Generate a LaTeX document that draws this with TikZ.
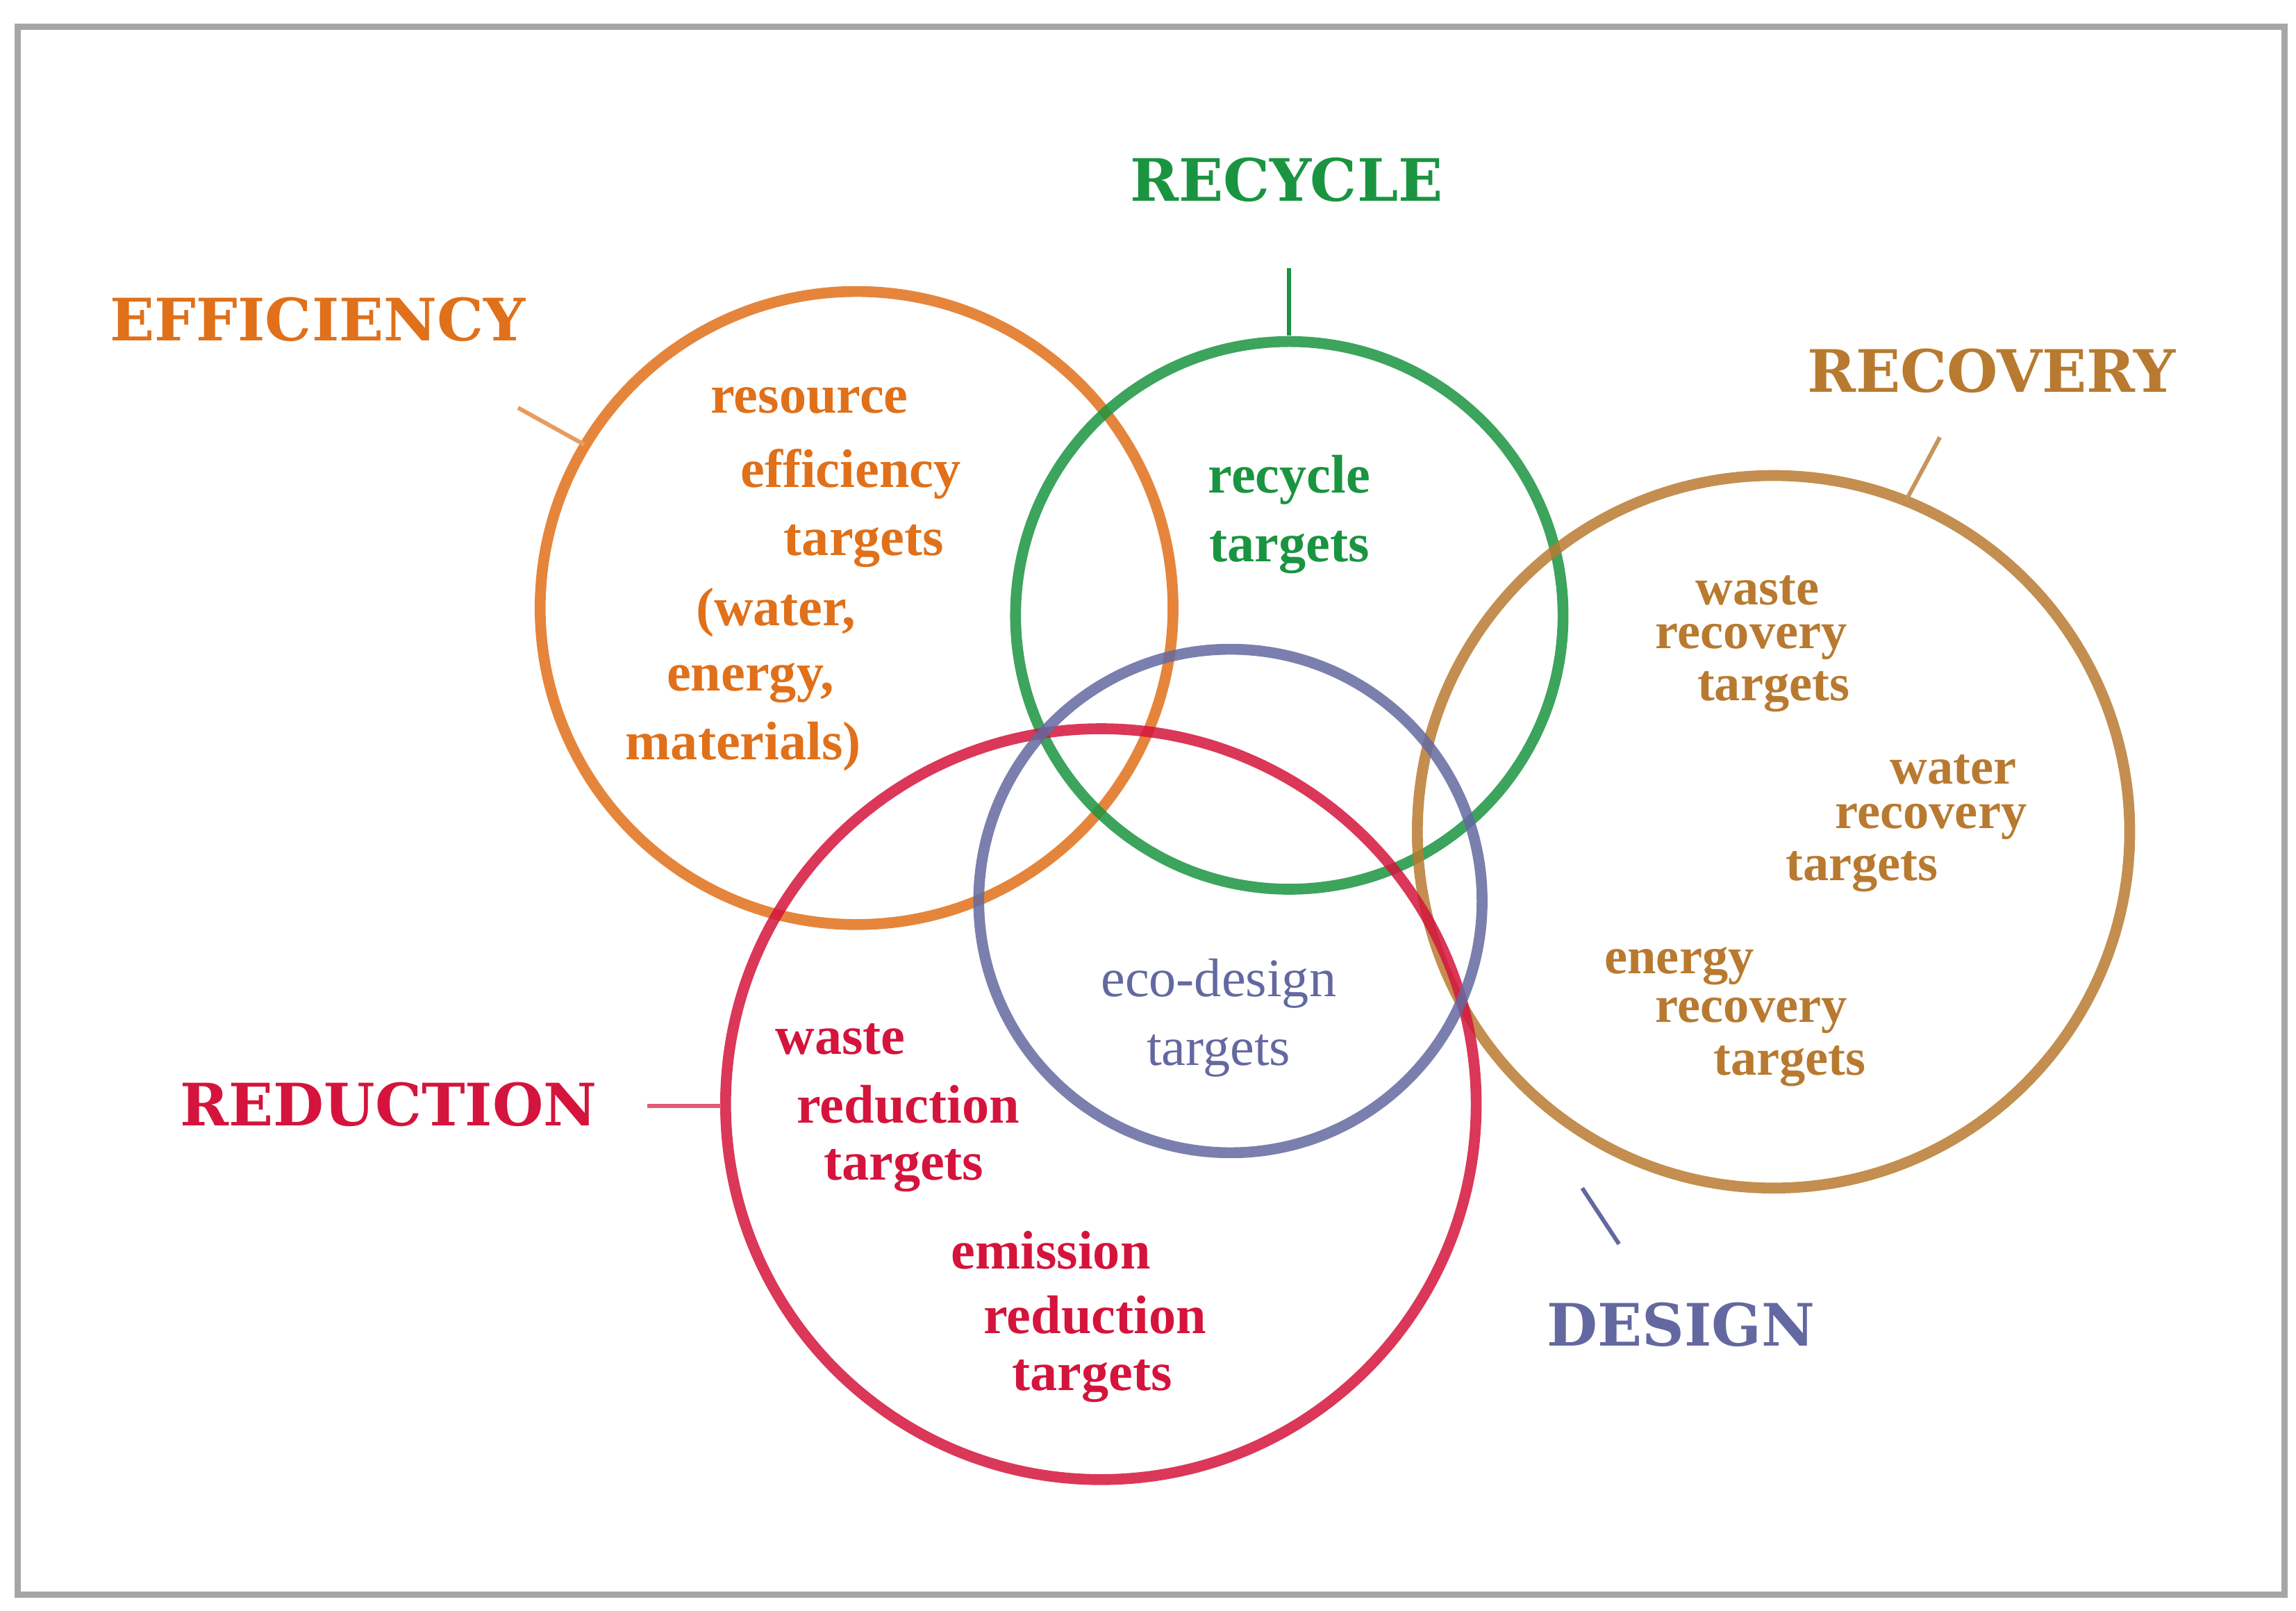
\documentclass[tikz,border=0pt]{standalone}
\usepackage{fontspec}
\setmainfont{Liberation Serif}
\newfontfamily\titlefont{DejaVu Serif}
\definecolor{cOr}{HTML}{E0701A}
\definecolor{cGr}{HTML}{1A9440}
\definecolor{cBr}{HTML}{B87A30}
\definecolor{cBl}{HTML}{6468A0}
\definecolor{cRd}{HTML}{D4143C}
\begin{document}
\begin{tikzpicture}[x=0.01cm,y=-0.01cm,
 ring/.style={line width=2.1pt,draw opacity=0.85},
 lead/.style={line width=0.8pt},
 ttl/.style={font=\titlefont\bfseries\fontsize{11.3}{13}\selectfont,inner sep=0pt},
 txt/.style={font=\bfseries\fontsize{10.5}{12}\selectfont,inner sep=0pt},
 rtx/.style={font=\bfseries\fontsize{10}{11}\selectfont,inner sep=0pt,text=cBr}]
\useasboundingbox (0,0) rectangle (1560,1094);
\draw[gray!70,line width=1.2pt] (12,18) rectangle (1552,1083);
% circles
\draw[ring,cOr] (582,413) circle (215);
\draw[ring,cGr] (876,418) circle (186);
\draw[ring,cBr] (1205,565) circle (242);
\draw[ring,cRd] (748,750) circle (255);
\draw[ring,cBl] (836,612) circle (171);
% titles
\node[ttl,text=cOr] (tE) at (216,217) {EFFICIENCY};
\node[ttl,text=cGr] (tRc) at (874,122) {RECYCLE};
\node[ttl,text=cBr] (tRv) at (1353,252) {RECOVERY};
\node[ttl,text=cRd] (tRd) at (264,750) {REDUCTION};
\node[ttl,text=cBl] (tD) at (1142,900) {DESIGN};
% leader lines
\coordinate (a1) at (352,277); \coordinate (a2) at (397,302);
\coordinate (b1) at (876,182); \coordinate (b2) at (876,228);
\coordinate (c1) at (1318,297); \coordinate (c2) at (1295,340);
\coordinate (d1) at (440,751); \coordinate (d2) at (490,751);
\coordinate (e1) at (1075,807); \coordinate (e2) at (1100,845);
\draw[lead,cOr!70] (a1) -- (a2);
\draw[lead,cGr] (b1) -- (b2);
\draw[lead,cBr!80] (c1) -- (c2);
\draw[lead,cRd!70] (d1) -- (d2);
\draw[lead,cBl] (e1) -- (e2);
% efficiency text
\node[txt,text=cOr] (o1) at (550,272) {resource};
\node[txt,text=cOr] (o2) at (578,322) {efficiency};
\node[txt,text=cOr] (o3) at (587,371) {targets};
\node[txt,text=cOr] (o4) at (527,416) {(water,};
\node[txt,text=cOr] (o5) at (510,464) {energy,};
\node[txt,text=cOr] (o6) at (505,507) {materials)};
% recycle
\node[txt,text=cGr] (g1) at (876,326) {recycle};
\node[txt,text=cGr] (g2) at (876,375) {targets};
% recovery
\node[rtx] (r1) at (1194,401) {waste};
\node[rtx] (r2) at (1190,436) {recovery};
\node[rtx] (r3) at (1205,470) {targets};
\node[rtx] (r4) at (1327,523) {water};
\node[rtx] (r5) at (1312,558) {recovery};
\node[rtx] (r6) at (1265,592) {targets};
\node[rtx] (r7) at (1141,656) {energy};
\node[rtx] (r8) at (1190,690) {recovery};
\node[rtx] (r9) at (1216,724) {targets};
% design
\node[txt,text=cBl,font=\fontsize{10.5}{12}\selectfont] (b1t) at (828,668) {eco-design};
\node[txt,text=cBl,font=\fontsize{10.5}{12}\selectfont] (b2t) at (828,717) {targets};
% reduction
\node[txt,text=cRd] (d1t) at (571,706) {waste};
\node[txt,text=cRd] (d2t) at (617,750) {reduction};
\node[txt,text=cRd] (d3t) at (614,795) {targets};
\node[txt,text=cRd] (d4t) at (714,849) {emission};
\node[txt,text=cRd] (d5t) at (744,893) {reduction};
\node[txt,text=cRd] (d6t) at (742,938) {targets};
\end{tikzpicture}
\end{document}
